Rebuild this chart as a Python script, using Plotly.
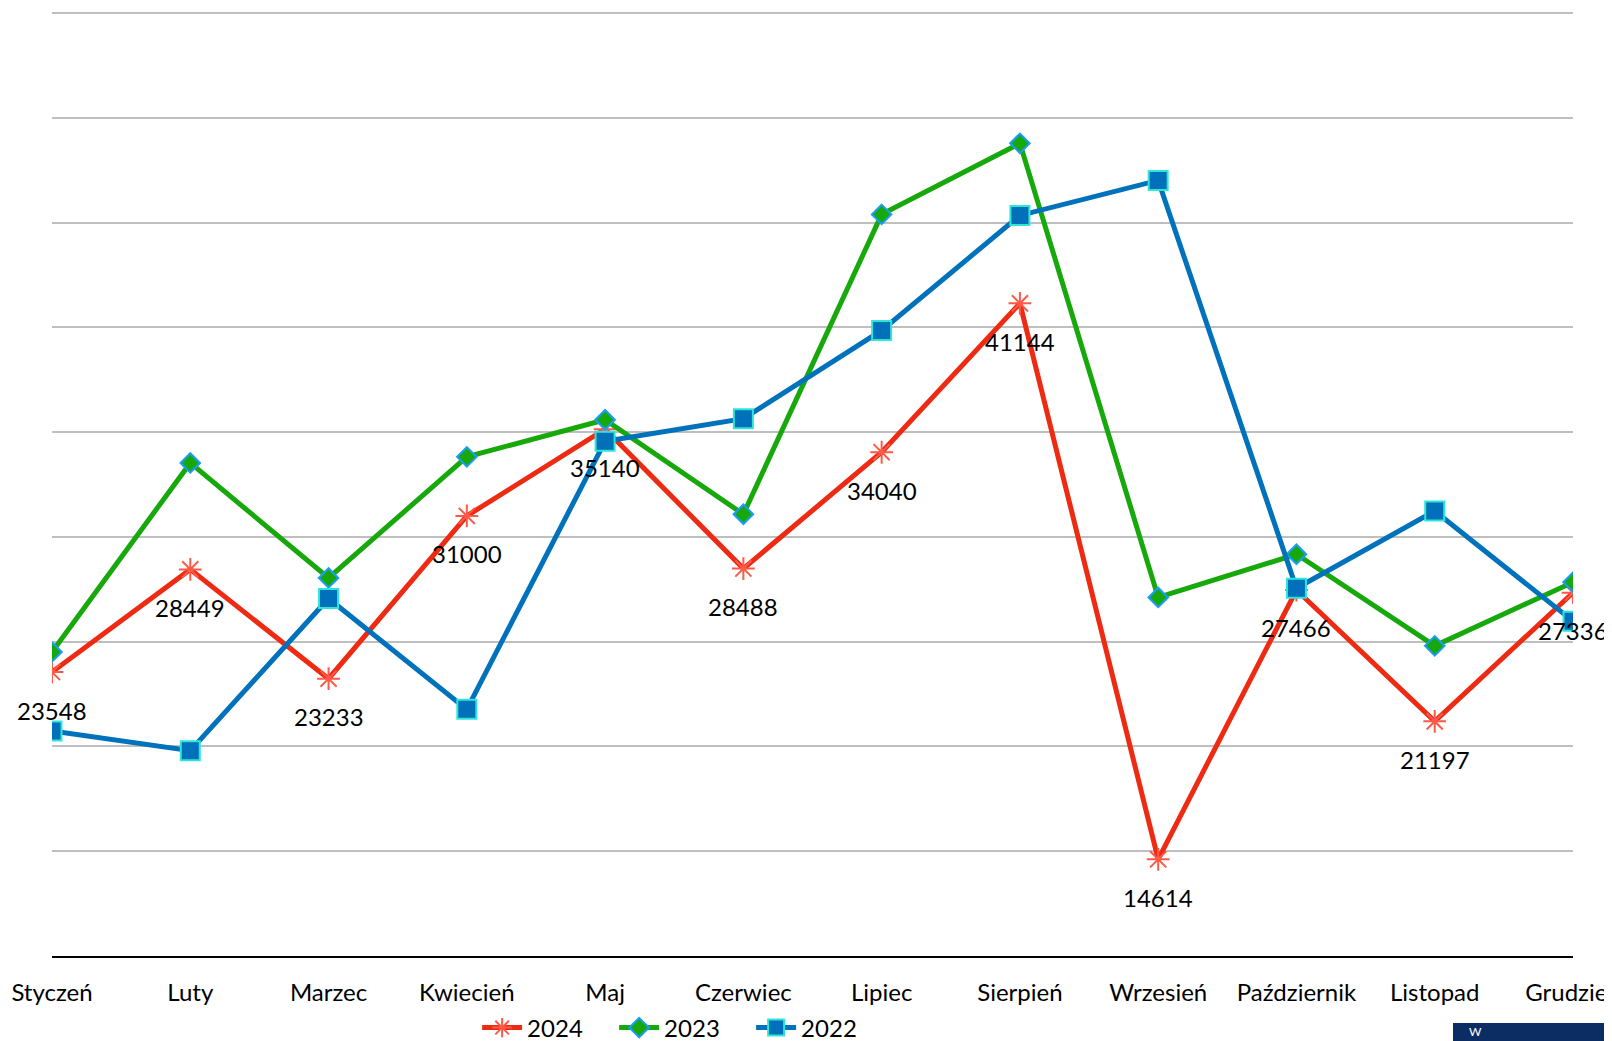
import plotly.graph_objects as go

months = ["Styczeń", "Luty", "Marzec", "Kwiecień", "Maj", "Czerwiec", "Lipiec",
          "Sierpień", "Wrzesień", "Październik", "Listopad", "Grudzień"]
v2024 = [23548, 28449, 23233, 31000, 35140, 28488, 34040, 41144, 14614, 27466, 21197, 27336]
v2023 = [24510, 33530, 28040, 33820, 35590, 31080, 45390, 48780, 27110, 29170, 24800, 27840]
v2022 = [20740, 19800, 27060, 21770, 34560, 35640, 39850, 45340, 47010, 27550, 31230, 25980]

FONT = "Lato, 'Open Sans', sans-serif"
FS = 24
x = list(range(len(months)))

# page has an 8px body margin; figure is positioned at (8, 8)
W, H = 1612, 1090
ML, MT = 44, 0
MR = W - (1573 - 8)
MB = H - (956 - 8)
PW = W - ML - MR
PH = H - MT - MB
YMIN = 10000
YMAX = 55000 + 5 / (PH - 5) * 45000  # 55000 gridline sits 5px below plot top

fig = go.Figure()
fig.add_trace(go.Scatter(
    x=x, y=v2024, name="2024", mode="lines+markers",
    line=dict(color="#EE2A12", width=5),
    marker=dict(symbol="asterisk-open", size=19, color="#FF5A48",
                line=dict(color="#FF5A48", width=2)),
))
fig.add_trace(go.Scatter(
    x=x, y=v2023, name="2023", mode="lines+markers",
    line=dict(color="#17A80C", width=5),
    marker=dict(symbol="diamond", size=15, color="#17A80C",
                line=dict(color="#1A9CFF", width=2)),
))
fig.add_trace(go.Scatter(
    x=x, y=v2022, name="2022", mode="lines+markers",
    line=dict(color="#0072BC", width=5),
    marker=dict(symbol="square", size=19, color="#0070BA",
                line=dict(color="#2EE6D8", width=2)),
))

for i, v in enumerate(v2024):
    fig.add_annotation(x=i, y=v, text=str(v), showarrow=False, yshift=-38,
                       font=dict(family=FONT, size=FS, color="#000000"))

# partially visible navy box at bottom right
fig.add_shape(type="rect", xref="paper", yref="paper",
              x0=(1453 - 8 - ML) / PW, x1=1.1, y0=-(1023 - 956) / PH, y1=-0.2,
              fillcolor="#0B2D63", line=dict(width=0), layer="above")
fig.add_annotation(xref="paper", yref="paper", x=(1468 - 8 - ML) / PW,
                   y=-(1023 - 956) / PH, xanchor="left", yanchor="top",
                   text="W", showarrow=False, yshift=0, borderpad=0,
                   font=dict(family=FONT, size=12, color="#FFFFFF"))

fig.update_layout(
    width=W, height=H,
    margin=dict(l=ML, r=MR, t=MT, b=MB),
    paper_bgcolor="white", plot_bgcolor="white",
    font=dict(family=FONT, size=FS, color="#000000"),
    showlegend=True,
    legend=dict(orientation="h", x=0.2795, xanchor="left",
                y=-(1020 - 948) / PH, yanchor="middle",
                font=dict(family=FONT, size=FS), itemwidth=40,
                entrywidth=82, tracegroupgap=0,
                bgcolor="rgba(0,0,0,0)"),
    xaxis=dict(
        tickmode="array", tickvals=x, ticktext=months, range=[0, 11],
        showgrid=False, zeroline=False, showline=True, linecolor="#000000", linewidth=2,
        ticks="", automargin=False, ticklabelstandoff=14, ticklabeloverflow="allow",
        tickfont=dict(family=FONT, size=FS),
    ),
    yaxis=dict(
        range=[YMIN, YMAX], dtick=5000, tick0=10000,
        showgrid=True, gridcolor="#BFBFBF", gridwidth=1.5,
        zeroline=False, showticklabels=False, showline=False, ticks="",
        automargin=False,
    ),
)

fig.write_html("out.html")
